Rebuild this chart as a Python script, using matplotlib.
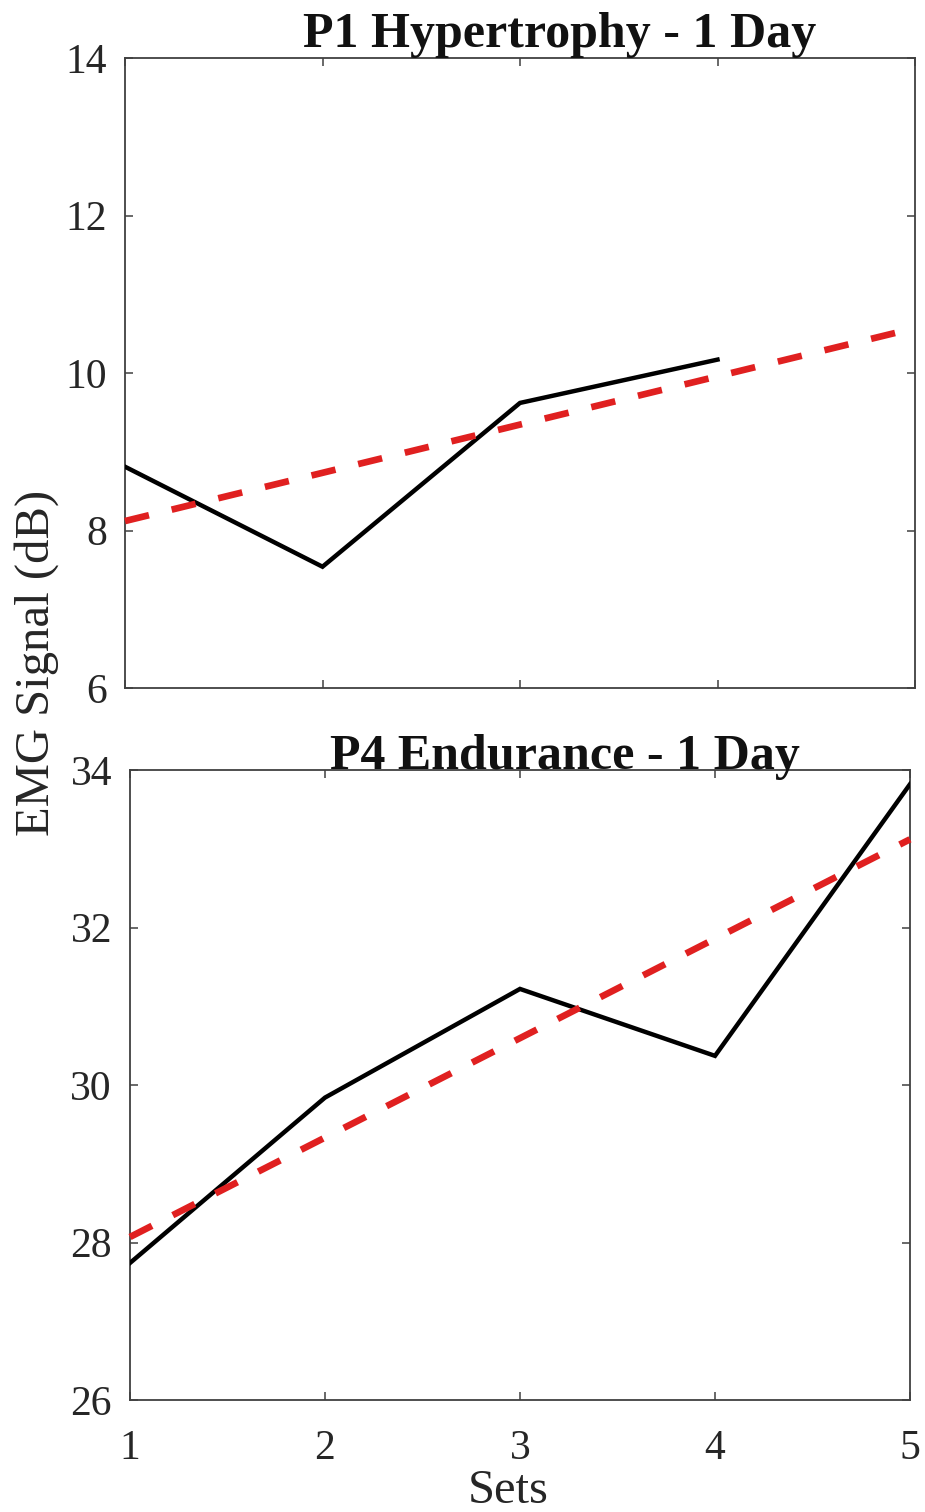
import matplotlib
matplotlib.use("Agg")
import matplotlib.pyplot as plt

# ---- data ----
sets = [1, 2, 3, 4, 5]

p1_sets = [1, 2, 3, 4]
p1_emg = [8.81, 7.54, 9.62, 10.17]
p1_trend_x = [1, 5]
p1_trend_y = [8.12, 10.57]

p4_sets = [1, 2, 3, 4, 5]
p4_emg = [27.74, 29.84, 31.22, 30.37, 33.82]
p4_trend_x = [1, 5]
p4_trend_y = [28.07, 33.12]

p1_yticks = [6, 8, 10, 12, 14]
p4_yticks = [26, 28, 30, 32, 34]

plt.rcParams["font.family"] = ["Liberation Serif", "DejaVu Serif"]

W, H = 925, 1512
fig = plt.figure(figsize=(W / 100, H / 100), dpi=100)

ax1 = fig.add_axes([125 / W, 1 - 688 / H, 790 / W, 630 / H])
ax2 = fig.add_axes([130 / W, 1 - 1400 / H, 780 / W, 630 / H])

AX_COL = "#404040"


def style(ax, yticks, show_x):
    ax.set_xlim(1, 5)
    ax.set_ylim(yticks[0], yticks[-1])
    ax.set_xticks(sets)
    ax.set_yticks(yticks)
    ax.tick_params(direction="in", length=5.5, width=1.1, color=AX_COL,
                   top=True, right=True, labelsize=30, labelcolor="#262626")
    ax.tick_params(axis="x", pad=21)
    ax.tick_params(axis="y", pad=13)
    if not show_x:
        ax.set_xticklabels([])
    for s in ax.spines.values():
        s.set_color(AX_COL)
        s.set_linewidth(1.3)


for ax, xs, ys, tx, ty, yt, title, tx_pos, show_x in [
        (ax1, p1_sets, p1_emg, p1_trend_x, p1_trend_y, p1_yticks,
         "P1 Hypertrophy - 1 Day", 0.55, False),
        (ax2, p4_sets, p4_emg, p4_trend_x, p4_trend_y, p4_yticks,
         "P4 Endurance - 1 Day", 0.558, True)]:
    ax.plot(xs, ys, color="black", lw=3.2, solid_joinstyle="miter", zorder=3)
    ax.plot(tx, ty, color="#e02020", lw=4.8, linestyle=(0, (3.7, 3.5)),
            dash_capstyle="butt", zorder=4, clip_on=False)
    style(ax, yt, show_x)
    ax.set_title(title, fontsize=36, fontweight="bold", x=tx_pos, pad=1,
                 color="#111111")

fig.text(37 / W, 1 - 663 / H, "EMG Signal (dB)", rotation=90,
         ha="center", va="center", fontsize=35, color="#262626")
fig.text(508 / W, 1 - 1503 / H, "Sets", ha="center", va="baseline",
         fontsize=35, color="#262626")

fig.savefig("out.png", dpi=100)
